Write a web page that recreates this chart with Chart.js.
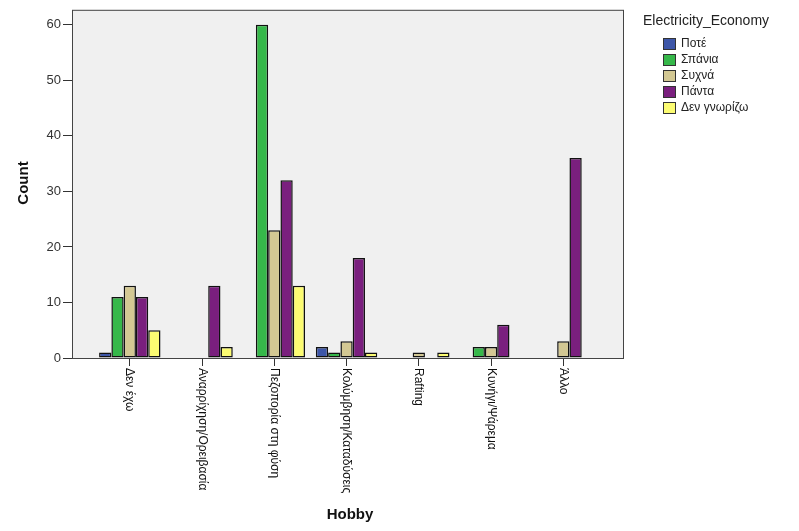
<!DOCTYPE html>
<html>
<head>
<meta charset="utf-8">
<script src="https://cdn.jsdelivr.net/npm/chart.js@4/dist/chart.umd.min.js"></script>
<style>
  html, body { margin: 0; padding: 0; background: #fff; }
  #wrap { width: 799px; height: 531px; }
</style>
</head>
<body>
<div id="wrap"><canvas id="chart"></canvas></div>
<script>
// categories on the x axis
const hobbies = ['Δεν έχω', 'Αναρρίχηση/Ορειβασία', 'Πεζοπορία στη φύση', 'Κολύμβηση/Καταδύσεις', 'Rafting', 'Κυνήγι/Ψάρεμα', 'Άλλο'];

// counts per answer group
const pote      = [1, 0, 0, 2, 0, 0, 0];
const spania    = [11, 0, 60, 1, 0, 2, 0];
const sychna    = [13, 0, 23, 3, 1, 2, 3];
const panta     = [11, 13, 32, 18, 0, 6, 36];
const denGnorizo = [5, 2, 13, 1, 1, 0, 0];

const yTicks = [0, 10, 20, 30, 40, 50, 60];

const FONT = '"Liberation Sans", Arial, sans-serif';

// turn a series into {x, y} points, zero counts leave no bar
const pts = arr => arr.map((v, i) => ({ x: i, y: v === 0 ? null : v }));

const series = [
  { label: 'Ποτέ', data: pote, color: '#3d56a8' },
  { label: 'Σπάνια', data: spania, color: '#36b84a' },
  { label: 'Συχνά', data: sychna, color: '#d3c893' },
  { label: 'Πάντα', data: panta, color: '#7a1f7e' },
  { label: 'Δεν γνωρίζω', data: denGnorizo, color: '#fcfc72' }
];

const spssLook = {
  id: 'spssLook',
  beforeDraw(chart) {
    const { ctx, chartArea: a } = chart;
    ctx.save();
    ctx.fillStyle = '#f0f0f0';
    ctx.fillRect(a.left, a.top, a.right - a.left, a.bottom - a.top);
    ctx.restore();
  },
  afterDraw(chart) {
    const { ctx, chartArea: a } = chart;
    const xs = chart.scales.x;
    ctx.save();
    // frame
    ctx.strokeStyle = '#444';
    ctx.lineWidth = 1;
    ctx.strokeRect(a.left + 0.5, a.top + 0.5, a.right - a.left - 1, a.bottom - a.top);

    // x labels, read top to bottom
    ctx.fillStyle = '#111';
    ctx.font = '12px ' + FONT;
    ctx.textAlign = 'left';
    ctx.textBaseline = 'middle';
    hobbies.forEach((h, i) => {
      const x = xs.getPixelForValue(i);
      ctx.save();
      ctx.translate(x, a.bottom + 10);
      ctx.rotate(Math.PI / 2);
      ctx.fillText(h, 0, 0);
      ctx.restore();
    });

    // axis titles
    ctx.font = 'bold 15px ' + FONT;
    ctx.textAlign = 'center';
    ctx.fillText('Hobby', 350, 515);
    ctx.save();
    ctx.translate(24, 183);
    ctx.rotate(-Math.PI / 2);
    ctx.fillText('Count', 0, 0);
    ctx.restore();

    // legend
    ctx.textAlign = 'left';
    ctx.font = '14px ' + FONT;
    ctx.fillStyle = '#222';
    ctx.fillText('Electricity_Economy', 643, 21);
    ctx.font = '12px ' + FONT;
    series.forEach((s, i) => {
      const y = 44 + i * 16;
      ctx.fillStyle = s.color;
      ctx.fillRect(663, y - 6, 13, 12);
      ctx.strokeStyle = '#333';
      ctx.strokeRect(663.5, y - 5.5, 12, 11);
      ctx.fillStyle = '#222';
      ctx.fillText(s.label, 681, y);
    });
    ctx.restore();
  }
};

new Chart(document.getElementById('chart'), {
  type: 'bar',
  data: {
    datasets: series.map(s => ({
      label: s.label,
      data: pts(s.data),
      backgroundColor: s.color,
      borderColor: '#111',
      borderWidth: 1.5,
      borderSkipped: false,
      categoryPercentage: 0.85,
      barPercentage: 1
    }))
  },
  options: {
    responsive: true,
    maintainAspectRatio: false,
    animation: false,
    layout: { padding: { top: 4, right: 175, left: 0, bottom: 0 } },
    plugins: {
      legend: { display: false },
      tooltip: { enabled: false }
    },
    scales: {
      x: {
        type: 'linear',
        offset: false,
        min: -0.8,
        max: 6.84,
        afterBuildTicks: s => { s.ticks = hobbies.map((_, i) => ({ value: i })); },
        afterFit: s => { s.height = 173; },
        ticks: { display: false },
        grid: { offset: false, drawOnChartArea: false, drawTicks: true, tickLength: 8, color: '#333' },
        border: { display: false }
      },
      y: {
        min: 0,
        max: 62.7,
        afterBuildTicks: s => { s.ticks = yTicks.map(v => ({ value: v })); },
        afterFit: s => { s.width = 72; },
        ticks: {
          color: '#333',
          padding: 2,
          font: { family: FONT, size: 13 }
        },
        grid: { drawOnChartArea: false, drawTicks: true, tickLength: 9, color: '#333' },
        border: { display: false }
      }
    }
  },
  plugins: [spssLook]
});
</script>
</body>
</html>
